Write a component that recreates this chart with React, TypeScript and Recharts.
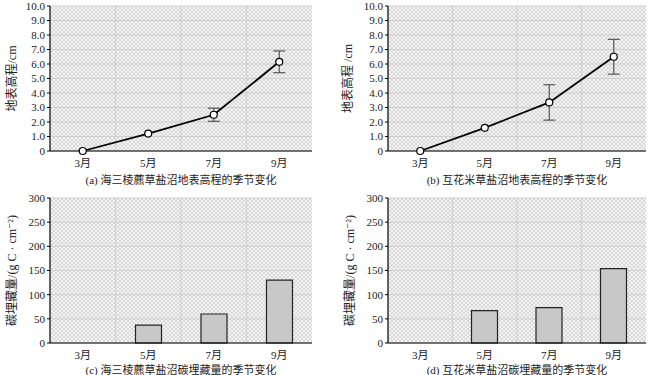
import {
  LineChart,
  Line,
  BarChart,
  Bar,
  XAxis,
  YAxis,
  CartesianGrid,
  ErrorBar,
} from 'recharts'

const months = ['3月', '5月', '7月', '9月']

// surface elevation (cm) with error
const elevA = [0, 1.2, 2.5, 6.15]
const errA = [0, 0, 0.45, 0.75]
const elevB = [0, 1.6, 3.35, 6.5]
const errB = [0, 0, 1.22, 1.2]

// carbon burial
const carbonC = [0, 37, 60, 130]
const carbonD = [0, 67, 73, 154]

const elevTicks = [0, 1, 2, 3, 4, 5, 6, 7, 8, 9, 10]
const carbonTicks = [0, 50, 100, 150, 200, 250, 300]

const titles = [
  '(a) 海三棱藨草盐沼地表高程的季节变化',
  '(b) 互花米草盐沼地表高程的季节变化',
  '(c) 海三棱藨草盐沼碳埋藏量的季节变化',
  '(d) 互花米草盐沼碳埋藏量的季节变化',
]

const FONT = '"Liberation Serif", "DejaVu Serif", "Noto Sans CJK SC", serif'
const tickStyle = { fill: '#222', fontSize: 11, fontFamily: FONT }

const lineData = (vals: number[], errs: number[]) =>
  months.map((m, i) => ({ m, v: vals[i], e: errs[i] }))
const barData = (vals: number[]) => months.map((m, i) => ({ m, v: vals[i] }))

const bandGrid = ({ offset }: any) =>
  [1, 2, 3].map((i) => offset.left + (offset.width * i) / 4)

function Hatch({ id }: { id: string }) {
  return (
    <defs>
      <pattern id={id} width="4" height="4" patternUnits="userSpaceOnUse">
        <rect width="4" height="4" fill="#f4f4f4" />
        <path d="M0,4 L4,0 M0,0 L4,4" stroke="#c4c4c4" strokeWidth="0.6" />
      </pattern>
    </defs>
  )
}

function Frame({ domain }: { domain: number[] }) {
  return [
    <XAxis
      key="top"
      xAxisId="top"
      orientation="top"
      dataKey="m"
      height={0}
      tick={false}
      tickLine={false}
      axisLine={{ stroke: '#000', strokeWidth: 1.2 }}
    />,
    <YAxis
      key="right"
      yAxisId="right"
      orientation="right"
      width={0}
      domain={domain}
      tick={false}
      tickLine={false}
      axisLine={{ stroke: '#000', strokeWidth: 1.2 }}
    />,
  ]
}

function ElevChart({ vals, errs, id, yw, label, labelX }: any) {
  return (
    <LineChart
      width={yw === 50 ? 320 : 328}
      height={175}
      data={lineData(vals, errs)}
      margin={{ top: 6, right: yw === 50 ? 8 : 2, left: 0, bottom: 4 }}
    >
      <Hatch id={id} />
      <CartesianGrid
        fill={`url(#${id})`}
        fillOpacity={1}
        stroke="#cfcfcf"
        verticalCoordinatesGenerator={bandGrid}
      />
      <XAxis
        dataKey="m"
        scale="band"
        tick={tickStyle}
        tickLine={false}
        height={20}
        axisLine={{ stroke: '#000', strokeWidth: 1.2 }}
      />
      <YAxis
        width={yw}
        domain={[0, 10]}
        ticks={elevTicks}
        interval={0}
        tick={tickStyle}
        tickSize={3}
        tickLine={{ stroke: '#000' }}
        axisLine={{ stroke: '#000', strokeWidth: 1.2 }}
        tickFormatter={(v: number) => (v === 0 ? '0' : v.toFixed(1))}
        label={{
          value: label,
          angle: -90,
          position: 'insideLeft',
          offset: labelX,
          style: { textAnchor: 'middle', fontSize: 12, fill: '#222', fontFamily: FONT },
        }}
      />
      {Frame({ domain: [0, 10] })}
      <Line
        dataKey="v"
        stroke="#000"
        strokeWidth={1.8}
        dot={{ r: 3.5, fill: '#fff', stroke: '#000', strokeWidth: 1.2 }}
        isAnimationActive={false}
      >
        <ErrorBar dataKey="e" width={6} stroke="#555" strokeWidth={1.2} direction="y" />
      </Line>
    </LineChart>
  )
}

function CarbonChart({ vals, id, yw, labelX }: any) {
  return (
    <BarChart
      width={yw === 50 ? 320 : 328}
      height={180}
      data={barData(vals)}
      margin={{ top: 13, right: yw === 50 ? 8 : 2, left: 0, bottom: 2 }}
    >
      <Hatch id={id} />
      <CartesianGrid
        fill={`url(#${id})`}
        fillOpacity={1}
        stroke="#cfcfcf"
        verticalCoordinatesGenerator={bandGrid}
      />
      <XAxis
        dataKey="m"
        tick={tickStyle}
        tickLine={false}
        height={20}
        axisLine={{ stroke: '#000', strokeWidth: 1.2 }}
      />
      <YAxis
        width={yw}
        domain={[0, 300]}
        ticks={carbonTicks}
        interval={0}
        tick={tickStyle}
        tickSize={3}
        tickLine={{ stroke: '#000' }}
        axisLine={{ stroke: '#000', strokeWidth: 1.2 }}
        label={{
          value: '碳埋藏量/(g C · cm⁻²)',
          angle: -90,
          position: 'insideLeft',
          offset: labelX,
          style: { textAnchor: 'middle', fontSize: 12, fill: '#222', fontFamily: FONT },
        }}
      />
      {Frame({ domain: [0, 300] })}
      <Bar
        dataKey="v"
        barSize={26}
        fill="#c8c8c8"
        stroke="#222"
        strokeWidth={1.2}
        isAnimationActive={false}
      />
    </BarChart>
  )
}

const titleStyle = (left: number, top: number, width: number): any => ({
  position: 'absolute',
  left,
  top,
  width,
  textAlign: 'center',
  fontSize: 11,
  fontFamily: FONT,
  color: '#222',
  whiteSpace: 'nowrap',
})

export default function App() {
  return (
    <div
      style={{
        position: 'absolute',
        left: 0,
        top: 0,
        width: 650,
        height: 375,
        background: '#fff',
        overflow: 'hidden',
      }}
    >
      <div style={{ position: 'absolute', left: 0, top: 0 }}>
        <ElevChart vals={elevA} errs={errA} id="hA" yw={50} label="地表高程/cm" labelX={12} />
      </div>
      <div style={{ position: 'absolute', left: 320, top: 0 }}>
        <ElevChart vals={elevB} errs={errB} id="hB" yw={68} label="地表高程 /cm" labelX={28} />
      </div>
      <div style={{ position: 'absolute', left: 0, top: 185 }}>
        <CarbonChart vals={carbonC} id="hC" yw={50} labelX={12} />
      </div>
      <div style={{ position: 'absolute', left: 320, top: 185 }}>
        <CarbonChart vals={carbonD} id="hD" yw={68} labelX={30} />
      </div>
      <div style={titleStyle(50, 171, 262)}>{titles[0]}</div>
      <div style={titleStyle(388, 171, 258)}>{titles[1]}</div>
      <div style={titleStyle(50, 361, 262)}>{titles[2]}</div>
      <div style={titleStyle(388, 361, 258)}>{titles[3]}</div>
    </div>
  )
}
